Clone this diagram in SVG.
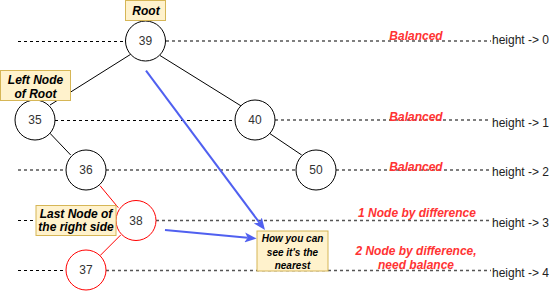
<svg xmlns="http://www.w3.org/2000/svg" width="551" height="291" viewBox="0 0 551 291">
<style>
.dk{stroke:#000;stroke-width:1;stroke-dasharray:3 3;fill:none}
.gr{stroke:#555;stroke-width:1.3;stroke-dasharray:3 3;fill:none}
.ed{stroke:#000;stroke-width:1;fill:none}
.er{stroke:#ff0000;stroke-width:1;fill:none}
.nd circle{fill:#fff;stroke:#000;stroke-width:1}
.nr circle{fill:#fff;stroke:#ff0000;stroke-width:1}
.nt{font-family:"Liberation Sans",Arial,sans-serif;font-size:12px;fill:#333;text-anchor:middle}
.lb rect{fill:#fff2cc;stroke:#d6b656;stroke-width:1}
.lt{font-family:"Liberation Sans",Arial,sans-serif;font-size:12px;font-weight:bold;font-style:italic;fill:#000;text-anchor:middle}
.st{font-family:"Liberation Sans",Arial,sans-serif;font-size:10px;font-weight:bold;font-style:italic;fill:#000;text-anchor:middle}
.rt{font-family:"Liberation Sans",Arial,sans-serif;font-size:12px;font-weight:bold;font-style:italic;fill:#ff3333;text-anchor:middle}
.ht{font-family:"Liberation Sans",Arial,sans-serif;font-size:12px;fill:#222}
.bl{stroke:#5060f0;stroke-width:2;fill:none}
</style>
<defs>
<marker id="arr" markerUnits="userSpaceOnUse" markerWidth="12" markerHeight="10" viewBox="0 0 12 10" refX="3" refY="5" orient="auto">
<path d="M0,0 L12,5 L0,10 L3,5 z" fill="#5060f0"/>
</marker>
</defs>
<g id="levels">
<line class="dk" x1="18" y1="41.5" x2="126" y2="41.5"/>
<line class="gr" x1="166" y1="41" x2="491" y2="41"/>
<line class="dk" x1="55" y1="120.5" x2="235" y2="120.5"/>
<line class="gr" x1="275" y1="120" x2="491" y2="120"/>
<line class="gr" x1="18" y1="170" x2="66" y2="170"/>
<line class="gr" x1="106" y1="170" x2="296" y2="170"/>
<line class="gr" x1="336" y1="170" x2="491" y2="170"/>
<line class="dk" x1="18" y1="220.5" x2="36" y2="220.5"/>
<line class="gr" x1="156" y1="220.5" x2="491" y2="220.5"/>
<line class="dk" x1="18" y1="270.5" x2="66" y2="270.5"/>
<line class="gr" x1="106" y1="270.5" x2="491" y2="270.5"/>
</g>
<g id="connectors">
<line class="ed" x1="130.7" y1="54.3" x2="50" y2="105"/>
<line class="ed" x1="160" y1="55.5" x2="242" y2="106.5"/>
<line class="ed" x1="50" y1="133.3" x2="70.7" y2="155"/>
<line class="ed" x1="269" y1="133" x2="301.7" y2="155"/>
<line class="er" x1="100" y1="185.7" x2="118.3" y2="207.7"/>
<line class="er" x1="120.7" y1="235" x2="100" y2="255.7"/>
</g>
<g id="n39" class="nd"><circle cx="145.5" cy="41" r="20"/><text class="nt" x="145.5" y="45">39</text></g>
<g id="n35" class="nd"><circle cx="35" cy="120" r="20"/><text class="nt" x="35" y="124">35</text></g>
<g id="n40" class="nd"><circle cx="255" cy="120" r="20"/><text class="nt" x="255" y="124">40</text></g>
<g id="n36" class="nd"><circle cx="86" cy="170" r="20"/><text class="nt" x="86" y="174">36</text></g>
<g id="n50" class="nd"><circle cx="316" cy="170" r="20"/><text class="nt" x="316" y="174">50</text></g>
<g id="n38" class="nr"><circle cx="136" cy="220.5" r="20"/><text class="nt" x="136" y="224.5">38</text></g>
<g id="n37" class="nr"><circle cx="86" cy="270" r="20"/><text class="nt" x="86" y="274">37</text></g>
<g id="lblRoot" class="lb"><rect x="125.5" y="0.5" width="40" height="20"/><text class="lt" x="146" y="15">Root</text></g>
<g id="lblLeft" class="lb"><rect x="0.5" y="70.5" width="70" height="30"/><text class="lt" x="35.5" y="84">Left Node</text><text class="lt" x="35.5" y="97.5">of Root</text></g>
<g id="lblLast" class="lb"><rect x="36" y="205.5" width="80" height="30"/><text class="lt" x="76" y="217.5">Last Node of</text><text class="lt" x="76" y="231">the right side</text></g>
<g id="lblNearest" class="lb"><rect x="257" y="231" width="71" height="40"/><text class="st" x="292.5" y="241.5">How you can</text><text class="st" x="292.5" y="255.5">see it's the</text><text class="st" x="292.5" y="269">nearest</text></g>
<g id="status">
<text class="rt" x="416" y="40">Balanced</text>
<text class="rt" x="416" y="120.5">Balanced</text>
<text class="rt" x="416" y="170.5">Balanced</text>
<text class="rt" x="417" y="217">1 Node by difference</text>
<text class="rt" x="416" y="254.5">2 Node by difference,</text>
<text class="rt" x="416" y="268.5">need balance</text>
</g>
<g id="heights">
<text class="ht" x="492" y="43.5">height -&gt; 0</text>
<text class="ht" x="492" y="126.5">height -&gt; 1</text>
<text class="ht" x="492" y="176">height -&gt; 2</text>
<text class="ht" x="492" y="226.5">height -&gt; 3</text>
<text class="ht" x="492" y="276.5">height -&gt; 4</text>
</g>
<g id="arrows">
<line class="bl" x1="146" y1="70.7" x2="259.6" y2="222.8" marker-end="url(#arr)"/>
<line class="bl" x1="165" y1="230" x2="247.7" y2="237.7" marker-end="url(#arr)"/>
</g>
</svg>
